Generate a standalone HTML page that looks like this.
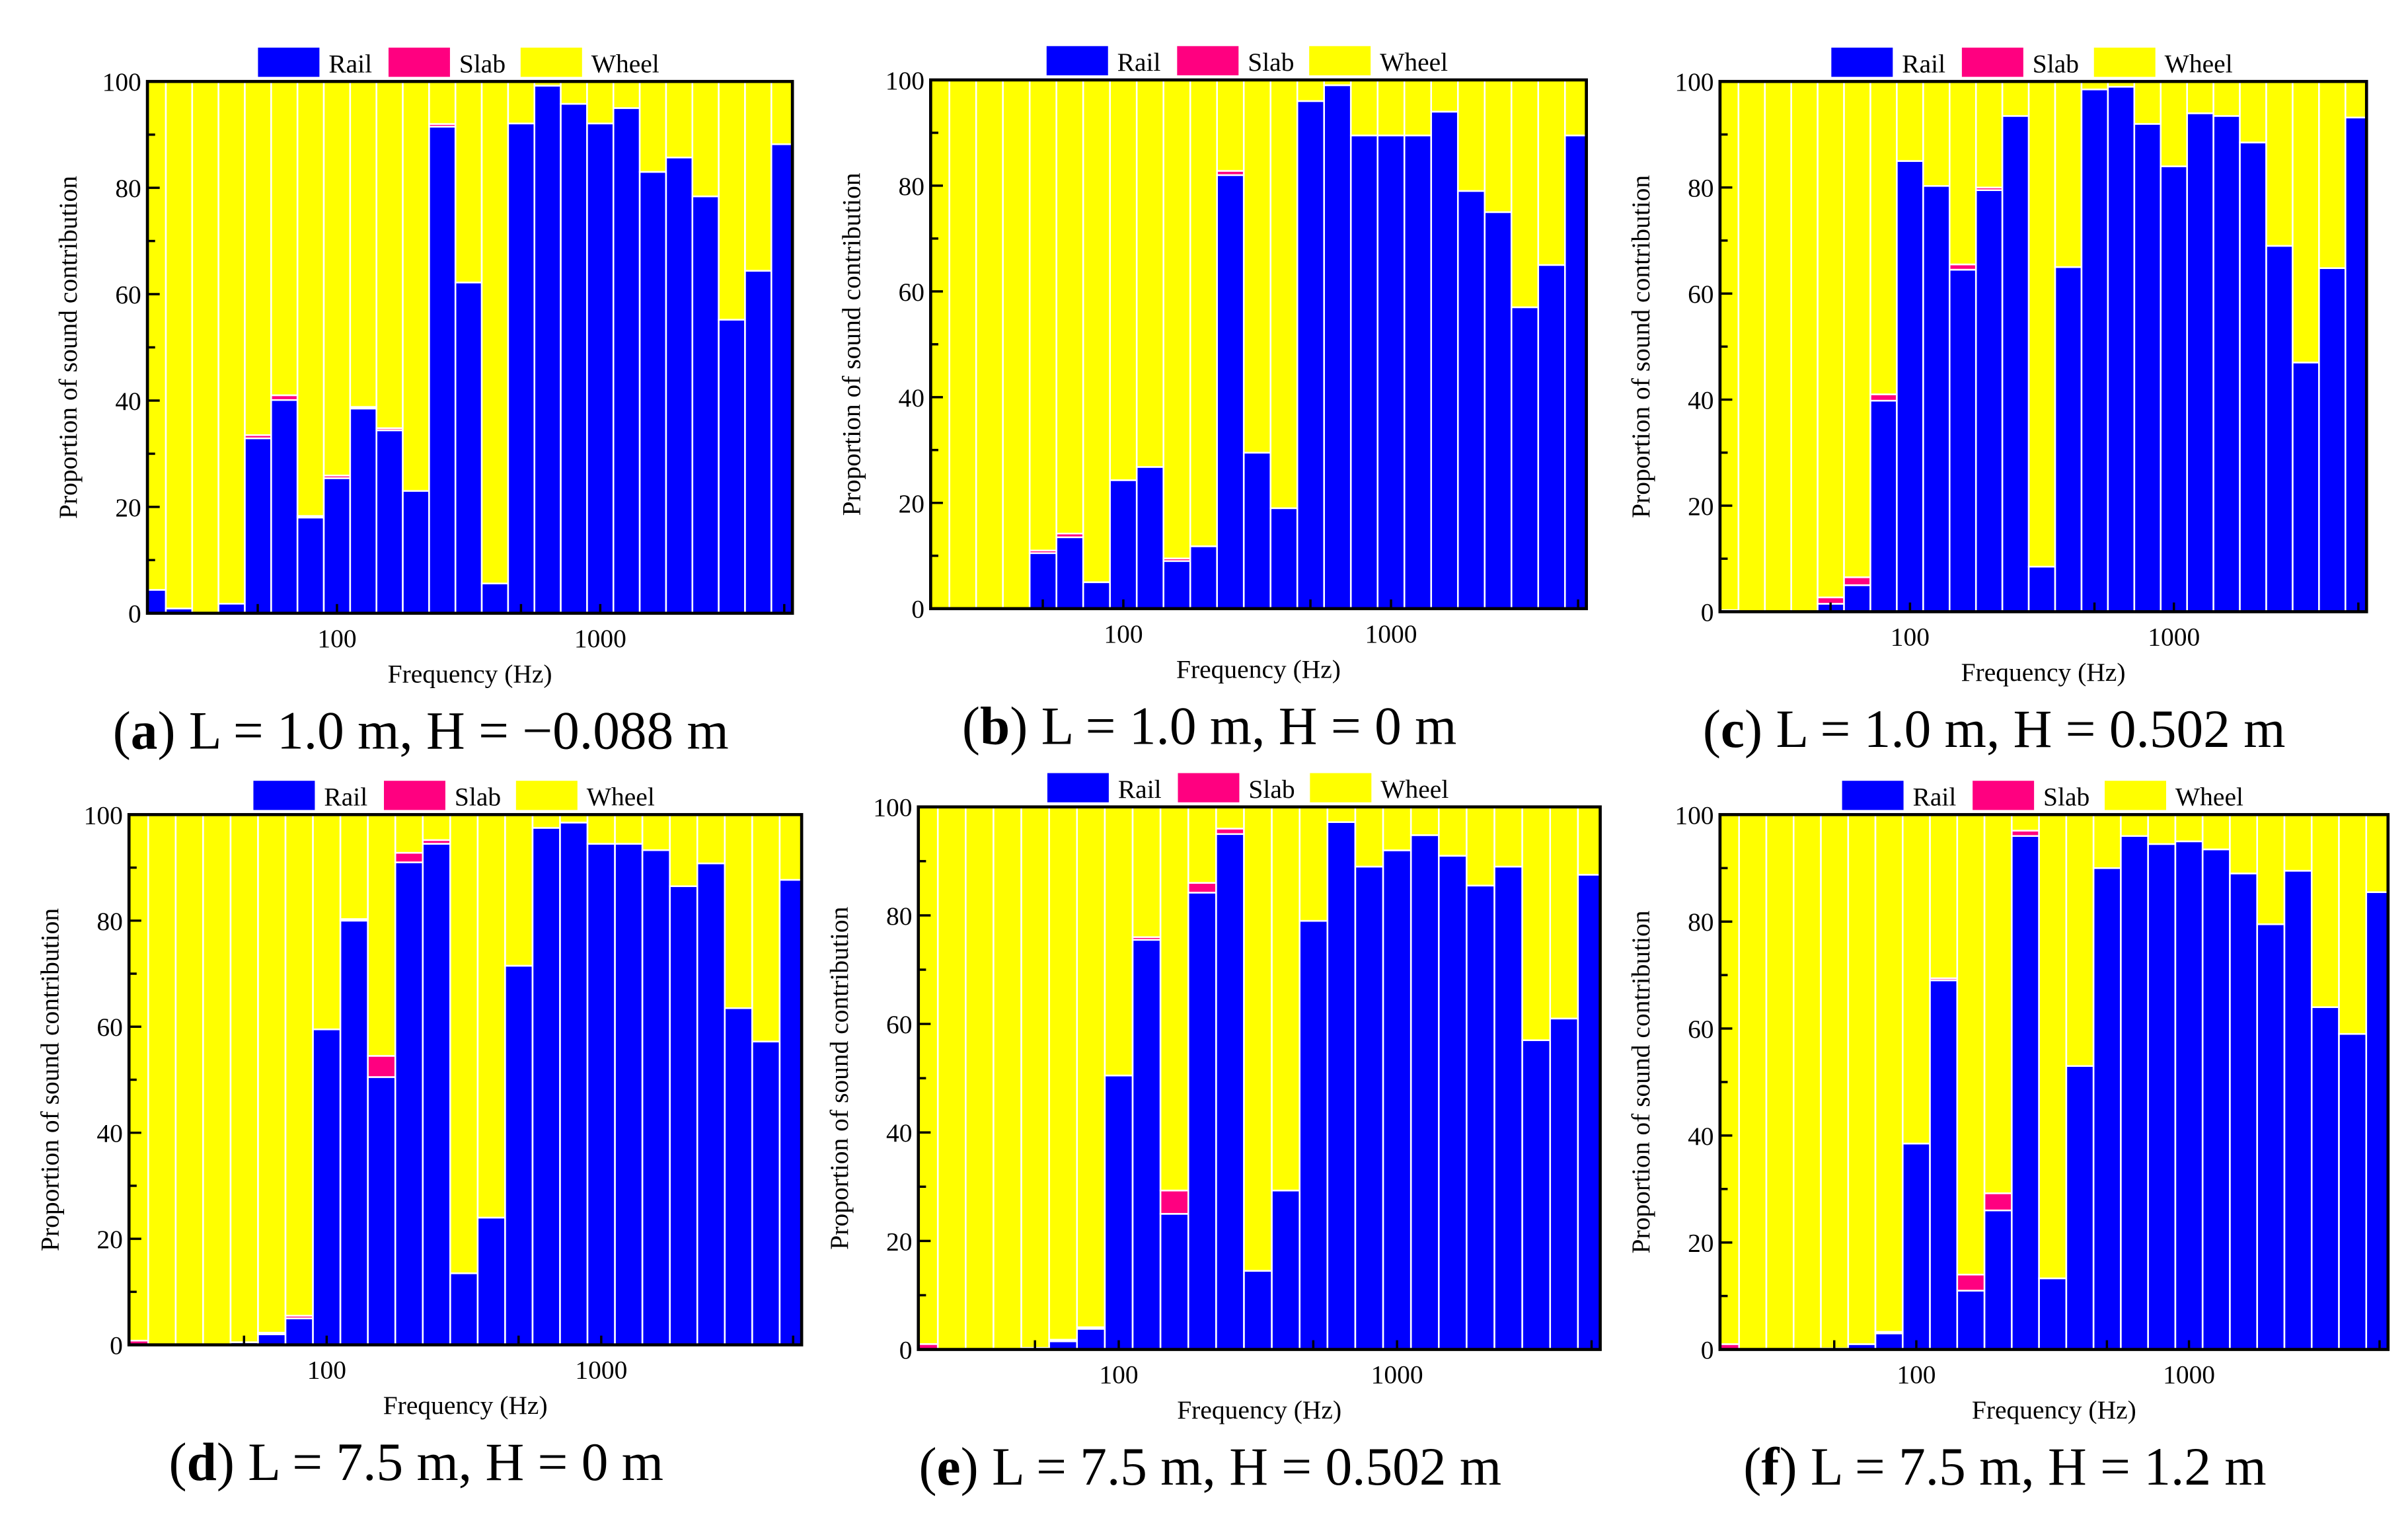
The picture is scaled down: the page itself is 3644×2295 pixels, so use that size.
<!DOCTYPE html>
<html><head><meta charset="utf-8"><style>
html,body{margin:0;padding:0;background:#fff;}
svg{display:block;}
text{font-family:"Liberation Serif","Times New Roman",serif;fill:#000;}
</style></head><body>
<svg id="fig" width="3644" height="2295" viewBox="0 0 1568 987" preserveAspectRatio="none" xmlns="http://www.w3.org/2000/svg"></svg>
<script>
const bands = [20,25,31.5,40,50,63,80,100,125,160,200,250,315,400,500,630,800,1000,1250,1600,2000,2500,3150,4000,5000];
const yTicks = [0,20,40,60,80,100];
const xTickLabels = [100,1000];
const xTickMarks = [50,100,500,1000,5000];
const seriesNames = ["Rail","Slab","Wheel"];
const rail_a = [4.4,0.9,0,1.8,32.9,40.1,18,25.4,38.5,34.4,23,91.5,62.2,5.6,92.1,99.2,95.8,92.1,95,83,85.7,78.4,55.2,64.4,88.2];
const slab_a = [0,0,0,0,0.6,0.9,0.3,0.5,0.3,0.4,0,0.5,0,0,0,0,0,0,0,0,0,0,0,0,0];
const rail_b = [0,0,0,0,10.5,13.5,5,24.3,26.8,9,11.8,82,29.5,19,96,99,89.5,89.5,89.5,94,79,75,57,65,89.5];
const slab_b = [0,0,0,0,0.5,0.7,0,0,0,0.5,0,0.8,0,0,0,0,0,0,0,0,0,0,0,0,0];
const rail_c = [0,0,0,0,1.5,5,39.8,85,80.3,64.5,79.5,93.5,8.5,65,98.5,99,92,84,94,93.5,88.5,69,47,64.8,93.2];
const slab_c = [0.3,0,0,0,1.2,1.5,1.2,0,0,1,0.5,0,0,0,0,0,0,0,0,0,0,0,0,0,0];
const rail_d = [0,0,0,0,0.5,2,5,59.5,80,50.5,91,94.5,13.5,24,71.5,97.5,98.5,94.5,94.5,93.3,86.5,90.8,63.5,57.2,87.7];
const slab_d = [0.8,0,0,0,0,0.3,0.5,0,0.3,4,1.8,0.7,0,0,0,0,0,0,0,0,0,0,0,0,0];
const rail_e = [0,0,0,0,0.3,1.5,3.8,50.5,75.5,25,84.2,95,14.5,29.3,79,97.2,89,92,94.8,91,85.5,89,57,61,87.5];
const slab_e = [1,0,0,0,0,0.3,0.3,0,0.5,4.3,1.8,1,0,0,0,0,0,0,0,0,0,0,0,0,0];
const rail_f = [0,0,0,0,0.2,1,3,38.5,69,11,26,96,13.3,53,90,96,94.5,95,93.5,89,79.5,89.5,64,59,85.5];
const slab_f = [1,0,0,0,0,0,0.3,0,0.4,3,3.2,1,0,0,0,0,0,0,0,0,0,0,0,0,0];
const captions = ["L = 1.0 m, H = \u22120.088 m","L = 1.0 m, H = 0 m","L = 1.0 m, H = 0.502 m","L = 7.5 m, H = 0 m","L = 7.5 m, H = 0.502 m","L = 7.5 m, H = 1.2 m"];
const letters = ["a","b","c","d","e","f"];
const railSets = [rail_a,rail_b,rail_c,rail_d,rail_e,rail_f];
const slabSets = [slab_a,slab_b,slab_c,slab_d,slab_e,slab_f];

const layout = [
  {l:96,r:516,t:53,b:399},
  {l:606,r:1033,t:52,b:396},
  {l:1120,r:1541,t:53,b:398},
  {l:84,r:522,t:530,b:875},
  {l:598,r:1042,t:525,b:878},
  {l:1120,r:1555,t:530,b:878}
];
const colors = ["#0000ff","#ff0080","#ffff00"];
const NS = "http://www.w3.org/2000/svg";
const svg = document.getElementById("fig");
function mk(tag, attrs, parent){
  const e = document.createElementNS(NS, tag);
  for (const k in attrs) e.setAttribute(k, attrs[k]);
  (parent||svg).appendChild(e);
  return e;
}
const LMIN = 1.28, LMAX = 3.73;

layout.forEach((p, pi) => {
  const g = mk("g", {});
  
  
  const xs = v => p.l + (Math.log10(v) - LMIN) / (LMAX - LMIN) * (p.r - p.l);
  const xl = lv => p.l + (lv - LMIN) / (LMAX - LMIN) * (p.r - p.l);
  const ys = v => p.b - v / 100 * (p.b - p.t);
  const clipId = "clip" + pi;
  const cp = mk("clipPath", {id: clipId}, g);
  mk("rect", {x:p.l, y:p.t, width:p.r-p.l, height:p.b-p.t}, cp);
  const bars = mk("g", {"clip-path":"url(#"+clipId+")"}, g);
  const rail = railSets[pi], slab = slabSets[pi];
  bands.forEach((f, i) => {
    const lc = 1.3 + 0.1 * i;
    const x0 = xl(lc - 0.05), x1 = xl(lc + 0.05);
    const r = rail[i], s = slab[i];
    const segs = [[0, r, 0], [r, r + s, 1], [r + s, 100, 2]];
    segs.forEach(sg => {
      if (sg[1] - sg[0] <= 0) return;
      const rc = mk("rect", {x:x0, y:ys(sg[1]), width:x1-x0, height:ys(sg[0])-ys(sg[1]), fill:colors[sg[2]], stroke:"#fff", "stroke-width":1.1}, bars);
      
      
    });
  });
  const fr = mk("rect", {x:p.l, y:p.t, width:p.r-p.l, height:p.b-p.t, fill:"none", stroke:"#000", "stroke-width":2}, g);
  
  
  for (let v = 0; v <= 100; v += 10) {
    const major = v % 20 === 0;
    mk("line", {x1:p.l, x2:p.l + (major ? 8 : 5), y1:ys(v), y2:ys(v), stroke:"#000", "stroke-width":1.5}, g);
  }
  yTicks.forEach(v => {
    const t = mk("text", {x:p.l - 4, y:ys(v) + 6, "font-size":17, "text-anchor":"end"}, g);
    t.textContent = v;
    
    
  });
  xTickMarks.forEach(v => {
    mk("line", {x1:xs(v), x2:xs(v), y1:p.b, y2:p.b - 6, stroke:"#000", "stroke-width":1.5}, g);
  });
  xTickLabels.forEach(v => {
    const t = mk("text", {x:xs(v), y:p.b + 22, "font-size":17, "text-anchor":"middle"}, g);
    t.textContent = v;
    
    
  });
  const xt = mk("text", {x:(p.l+p.r)/2, y:p.b + 45, "font-size":17, "text-anchor":"middle"}, g);
  xt.textContent = "Frequency (Hz)";
  
  
  const yx = p.l - 46, yy = (p.t + p.b) / 2;
  const yt = mk("text", {x:yx, y:yy, "font-size":17, "text-anchor":"middle", transform:"rotate(-90 "+yx+" "+yy+")"}, g);
  yt.textContent = "Proportion of sound contribution";
  
  
  const cx = (p.l + p.r) / 2 - 3;
  const lx0 = cx - 135, ly = p.t - 22;
  const offs = [0, 85, 171];
  seriesNames.forEach((n, k) => {
    const le = mk("g", {}, g);
    
    
    mk("rect", {x:lx0 + offs[k], y:ly, width:40, height:19, fill:colors[k]}, le);
    const t = mk("text", {x:lx0 + offs[k] + 46, y:ly + 16, "font-size":17}, le);
    t.textContent = n;
  });
  const cap = mk("text", {x:(p.l+p.r)/2 - 32, y:p.b + 88, "font-size":35, "text-anchor":"middle"}, svg);
  
  
  const t1 = mk("tspan", {}, cap); t1.textContent = "(";
  const t2 = mk("tspan", {"font-weight":"bold"}, cap); t2.textContent = letters[pi];
  const t3 = mk("tspan", {}, cap); t3.textContent = ") " + captions[pi];
});
</script>
</body></html>
